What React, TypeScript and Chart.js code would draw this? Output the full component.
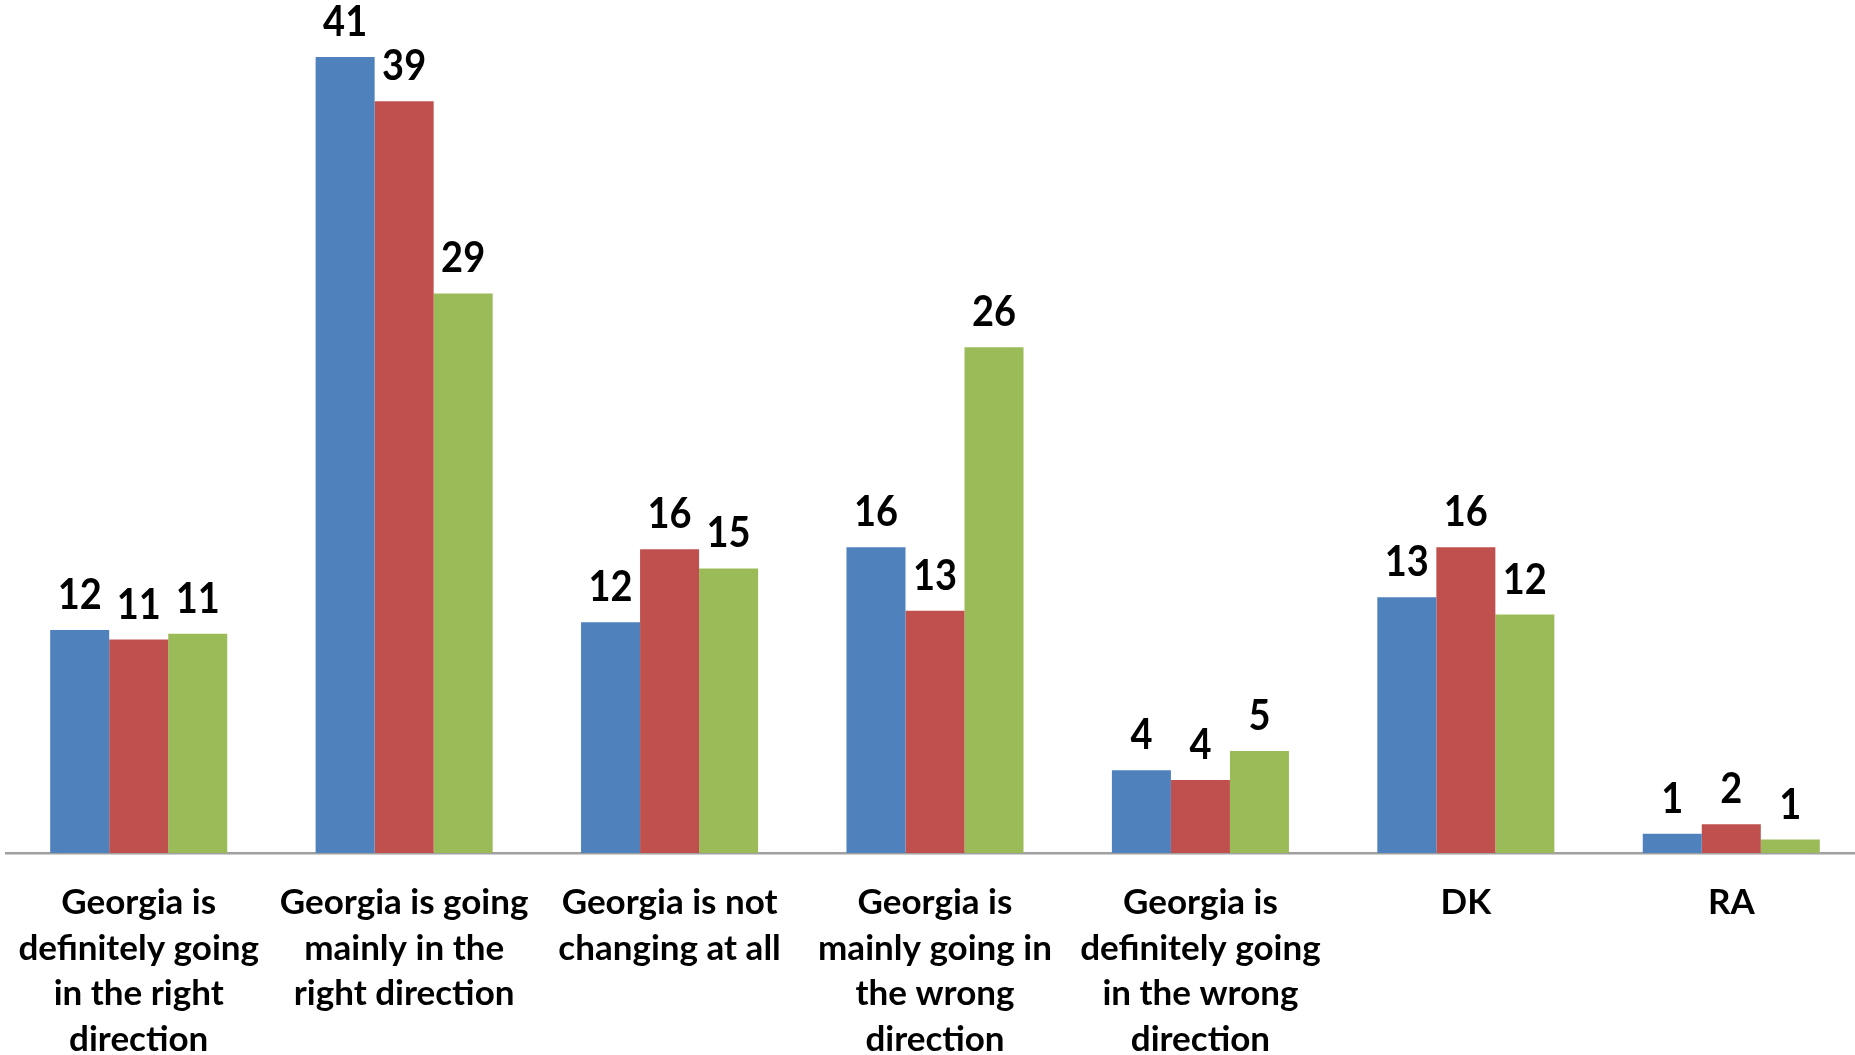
import React, { useEffect, useRef } from "react";
import { Chart, registerables } from "chart.js";

Chart.register(...registerables);

const categories: string[][] = [
  ["Georgia is", "definitely going", "in the right", "direction"],
  ["Georgia is going", "mainly in the", "right direction"],
  ["Georgia is not", "changing at all"],
  ["Georgia is", "mainly going in", "the wrong", "direction"],
  ["Georgia is", "definitely going", "in the wrong", "direction"],
  ["DK"],
  ["RA"],
];

const seriesBlue: number[] = [11.6, 41.4, 12.0, 15.9, 4.3, 13.3, 1.0];
const seriesRed: number[] = [11.1, 39.1, 15.8, 12.6, 3.8, 15.9, 1.5];
const seriesGreen: number[] = [11.4, 29.1, 14.8, 26.3, 5.3, 12.4, 0.7];

const labelsBlue: string[] = ["12", "41", "12", "16", "4", "13", "1"];
const labelsRed: string[] = ["11", "39", "16", "13", "4", "16", "2"];
const labelsGreen: string[] = ["11", "29", "15", "26", "5", "12", "1"];

const FONT = "Lato";
const CANVAS_W = 1864;
const CANVAS_H = 1055;

const valueLabelPlugin = {
  id: "valueLabels",
  afterDatasetsDraw(chart: any) {
    const ctx = chart.ctx;
    const all = [labelsBlue, labelsRed, labelsGreen];
    ctx.save();
    ctx.fillStyle = "#000000";
    ctx.textAlign = "center";
    ctx.textBaseline = "alphabetic";
    ctx.font = `bold 38px ${FONT}`;
    chart.data.datasets.forEach((_ds: any, di: number) => {
      const meta = chart.getDatasetMeta(di);
      meta.data.forEach((el: any, i: number) => {
        ctx.save();
        ctx.translate(el.x, el.y - 21);
        ctx.scale(1, 1.12);
        ctx.fillText(all[di][i], 0, 0);
        ctx.restore();
      });
    });
    ctx.restore();
  },
};

export default function App() {
  const ref = useRef<HTMLCanvasElement | null>(null);

  useEffect(() => {
    if (!ref.current) return;
    const chart = new Chart(ref.current, {
      type: "bar",
      data: {
        labels: categories as any,
        datasets: [
          { data: seriesBlue, backgroundColor: "#4F81BD", borderWidth: 0 },
          { data: seriesRed, backgroundColor: "#C0504D", borderWidth: 0 },
          { data: seriesGreen, backgroundColor: "#9BBB59", borderWidth: 0 },
        ],
      },
      options: {
        responsive: false,
        maintainAspectRatio: false,
        animation: false,
        devicePixelRatio: 1,
        layout: { padding: { left: 6, right: 0, top: 7, bottom: 0 } },
        datasets: {
          bar: { categoryPercentage: 0.667, barPercentage: 1.0 },
        },
        plugins: {
          legend: { display: false },
          title: { display: false },
          tooltip: { enabled: false },
        },
        scales: {
          x: {
            grid: { display: false, drawTicks: false },
            border: { display: true, color: "#A0A0A0", width: 2.5 },
            ticks: {
              autoSkip: false,
              maxRotation: 0,
              minRotation: 0,
              padding: 27,
              color: "#000000",
              font: { family: FONT, weight: "bold", size: 35, lineHeight: "45.5px" as any },
            },
            afterFit: (scale: any) => {
              scale.height = CANVAS_H - 853;
              scale.paddingLeft = 0;
              scale.paddingRight = 0;
            },
          },
          y: {
            display: false,
            min: 0,
            max: 44,
          },
        },
      },
      plugins: [valueLabelPlugin],
    });
    return () => chart.destroy();
  }, []);

  return (
    <div
      style={{
        position: "fixed",
        left: 0,
        top: 0,
        width: 1855,
        height: 1055,
        overflow: "hidden",
        background: "#ffffff",
      }}
    >
      <canvas ref={ref} width={CANVAS_W} height={CANVAS_H} style={{ display: "block" }} />
    </div>
  );
}
